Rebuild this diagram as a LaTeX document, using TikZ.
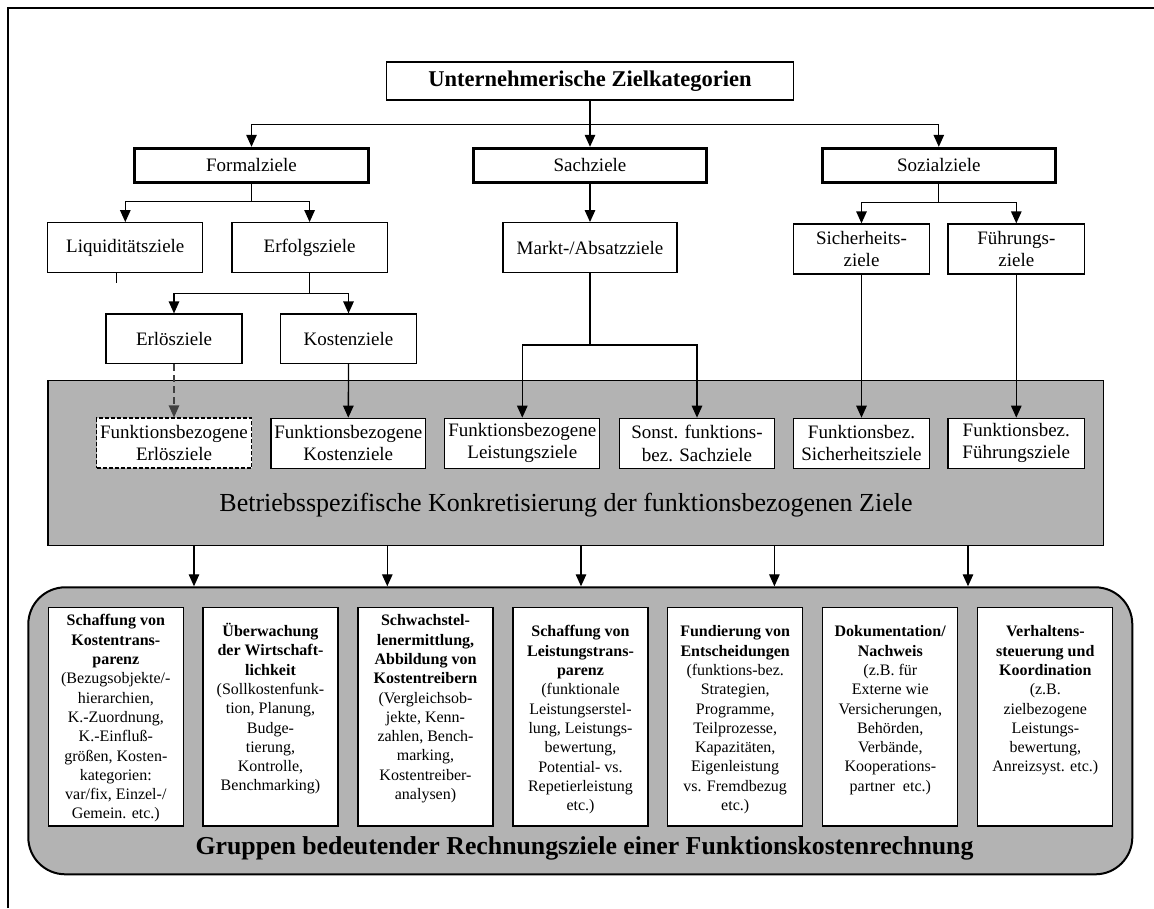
\documentclass[tikz,border=0pt]{standalone}
\usepackage{fontspec}
\setmainfont{Liberation Serif}
\usetikzlibrary{arrows.meta,calc}
\definecolor{greyfill}{RGB}{179,179,179}
\begin{document}
\begin{tikzpicture}[x=1pt,y=-1pt,
  conn/.style={line width=1.3pt},
  arr/.style={conn,-{Triangle[length=12pt,width=10.5pt]}},
  box/.style={draw,line width=1.3pt,fill=white,inner sep=0pt,align=center},
  thickbox/.style={box,line width=3pt},
  f19/.style={font=\fontsize{19}{22.3}\selectfont},
  btext/.style={inner sep=0pt,align=center,anchor=north,font=\fontsize{16}{19.3}\selectfont},
  greybox/.style={draw,fill=greyfill,inner sep=0pt}
]
\useasboundingbox (0,0) rectangle (1154,908);
\draw[line width=2pt] (8,908) -- (8,8) -- (1154,8);

% level 0
\node[box,font=\bfseries\fontsize{22.5}{27}\selectfont,minimum width=407,minimum height=38] (top) at (590,81) {Unternehmerische Zielkategorien};
% level 1
\node[thickbox,f19,minimum width=233.5,minimum height=34] (formal) at (251.5,165.3) {Formalziele};
\node[thickbox,f19,minimum width=233.5,minimum height=34] (sach) at (590,165.3) {Sachziele};
\node[thickbox,f19,minimum width=233.5,minimum height=34] (sozial) at (938.8,165.3) {Sozialziele};
% level 2
\node[box,f19,minimum width=155,minimum height=50] (liq) at (125.3,247.7) {Liquiditätsziele};
\node[box,f19,minimum width=155.4,minimum height=50] (erfolg) at (309.6,247.7) {Erfolgsziele};
\node[box,f19,minimum width=174,minimum height=50] (markt) at (590,247.7) {Markt-/Absatzziele};
\node[box,f19,minimum width=135.6,minimum height=50] (sicher) at (861.5,249) {Sicherheits-\\ziele};
\node[box,f19,minimum width=136.6,minimum height=50] (fuehr) at (1016.3,249) {Führungs-\\ziele};
% level 3
\node[box,f19,minimum width=136,minimum height=49.3] (erloes) at (174,338.7) {Erlösziele};
\node[box,f19,minimum width=136,minimum height=49.3] (kosten) at (348.5,338.7) {Kostenziele};

% grey band
\node[greybox,line width=1.5pt,minimum width=1055.8,minimum height=165] (grey) at (575.7,463.2) {};
\node[box,f19,minimum width=155,minimum height=50,line width=1.8pt,dash pattern=on 4pt off 2pt] (fb1) at (174,443.3) {Funktionsbezogene\\Erlösziele};
\node[box,f19,minimum width=154.6,minimum height=50] (fb2) at (348.3,443.3) {Funktionsbezogene\\Kostenziele};
\node[box,f19,minimum width=155,minimum height=50] (fb3) at (522.3,443.3) {Funktionsbezogene\\Leistungsziele};
\node[box,f19,minimum width=155,minimum height=50] (fb4) at (697,443.3) {Sonst. funktions-\\bez. Sachziele};
\node[box,f19,minimum width=135.6,minimum height=50] (fb5) at (861.5,443.3) {Funktionsbez.\\Sicherheitsziele};
\node[box,f19,minimum width=136.6,minimum height=50] (fb6) at (1016.3,443.3) {Funktionsbez.\\Führungsziele};
\node[inner sep=0pt,font=\fontsize{26}{31}\selectfont] (betr) at (566,505) {Betriebsspezifische Konkretisierung der funktionsbezogenen Ziele};

% connectors top part
\coordinate (j0) at (590,124.3);
\draw[conn] (top.south) -- (j0);
\draw[arr] (j0) -| (formal.north);
\draw[arr] (j0) -- (sach.north);
\draw[arr] (j0) -| (sozial.north);
\coordinate (j1) at (251.5,201.7);
\draw[conn] (formal.south) -- (j1);
\draw[arr] (j1) -| (liq.north);
\draw[arr] (j1) -| (erfolg.north);
\draw[arr] (sach.south) -- (markt.north);
\coordinate (j2) at (938.8,202.7);
\draw[conn] (sozial.south) -- (j2);
\draw[arr] (j2) -| (sicher.north);
\draw[arr] (j2) -| (fuehr.north);
\coordinate (j3) at (309.6,293.3);
\draw[conn] (erfolg.south) -- (j3);
\draw[arr] (j3) -| (erloes.north);
\draw[arr] (j3) -| (kosten.north);
\coordinate (j4) at (590,345);
\draw[conn] (markt.south) -- (j4);
\draw[arr] (j4) -| (fb3.north);
\draw[arr] (j4) -| (fb4.north);
\draw[arr,black!75,dash pattern=on 7pt off 4pt] (erloes.south) -- (fb1.north);
\draw[arr] (kosten.south) -- (fb2.north);
\draw[arr] (sicher.south) -- (fb5.north);
\draw[arr] (fuehr.south) -- (fb6.north);
\coordinate (tk) at (116,0);
\draw[line width=1pt] (tk |- liq.south) -- ++(0,10);

% bottom rounded band
\node[greybox,line width=2pt,rounded corners=37pt,minimum width=1104,minimum height=287] (round) at (580.3,730.8) {};
\foreach \i/\x in {1/194,2/387.3,3/581,4/774.4,5/968}{
  \coordinate (c\i) at (\x,0);
  \draw[arr] (c\i |- grey.south) -- (c\i |- round.north);
}
\foreach \i/\x in {1/115.8,2/270.5,3/425.5,4/580.5,5/735.2,6/890.3,7/1045.3}{
  \node[box,minimum width=135,minimum height=218.7] (b\i) at (\x,716.7) {};
}
\node[btext] (t1) at (115.8,614.5) {\textbf{Schaffung von}\\\textbf{Kostentrans-}\\\textbf{parenz}\\(Bezugsobjekte/-\\hierarchien,\\K.-Zuordnung,\\K.-Einfluß-\\größen, Kosten-\\kategorien:\\var/fix, Einzel-/\\Gemein. etc.)};
\node[btext] (t2) at (270.5,623) {\textbf{Überwachung}\\\textbf{der Wirtschaft-}\\\textbf{lichkeit}\\(Sollkostenfunk-\\tion, Planung,\\Budge-\\tierung,\\Kontrolle,\\Benchmarking)};
\node[btext] (t3) at (425.5,614.5) {\textbf{Schwachstel-}\\\textbf{lenermittlung,}\\\textbf{Abbildung von}\\\textbf{Kostentreibern}\\(Vergleichsob-\\jekte, Kenn-\\zahlen, Bench-\\marking,\\Kostentreiber-\\analysen)};
\node[btext] (t4) at (580.5,625.5) {\textbf{Schaffung von}\\\textbf{Leistungstrans-}\\\textbf{parenz}\\(funktionale\\Leistungserstel-\\lung, Leistungs-\\bewertung,\\Potential- vs.\\Repetierleistung\\etc.)};
\node[btext] (t5) at (735.2,625.5) {\textbf{Fundierung von}\\\textbf{Entscheidungen}\\(funktions-bez.\\Strategien,\\Programme,\\Teilprozesse,\\Kapazitäten,\\Eigenleistung\\vs. Fremdbezug\\etc.)};
\node[btext] (t6) at (890.3,625.5) {\textbf{Dokumentation/}\\\textbf{Nachweis}\\(z.B. für\\Externe wie\\Versicherungen,\\Behörden,\\Verbände,\\Kooperations-\\partner\ \ etc.)};
\node[btext] (t7) at (1045.3,625.5) {\textbf{Verhaltens-}\\\textbf{steuerung und}\\\textbf{Koordination}\\(z.B.\\zielbezogene\\Leistungs-\\bewertung,\\Anreizsyst. etc.)};
\node[inner sep=0pt,font=\bfseries\fontsize{25.8}{31}\selectfont] (gtitle) at (584.5,848) {Gruppen bedeutender Rechnungsziele einer Funktionskostenrechnung};
\end{tikzpicture}
\end{document}
